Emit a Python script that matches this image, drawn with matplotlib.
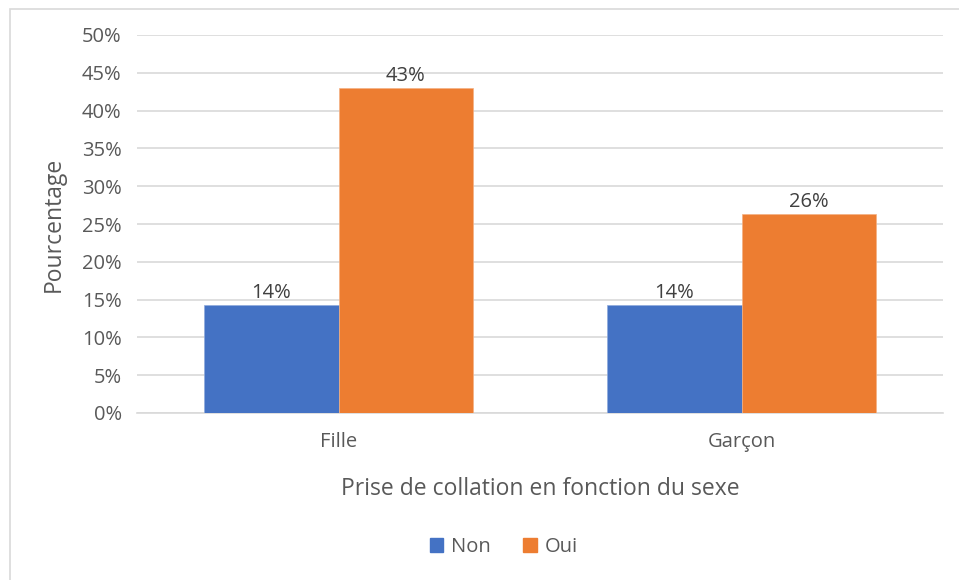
import matplotlib
matplotlib.use("Agg")
import matplotlib.pyplot as plt
import numpy as np
from matplotlib.patches import Rectangle, Patch

categories = ["Fille", "Garçon"]
series_names = ["Non", "Oui"]
non_values = [14.3, 14.3]
oui_values = [43.0, 26.3]
labels_non = ["14%", "14%"]
labels_oui = ["43%", "26%"]
yticks = [0, 5, 10, 15, 20, 25, 30, 35, 40, 45, 50]

W, H = 959, 580
plt.rcParams['font.family'] = ['Open Sans', 'DejaVu Sans']
fig = plt.figure(figsize=(W/100, H/100), dpi=100)
fig.patch.set_facecolor("white")

# outer chart frame (left and top visible)
fig.patches.append(Rectangle((9.5/W, -0.1), 1.2, 1 - 8.5/H + 0.1, transform=fig.transFigure,
                             fill=False, edgecolor="#d9d9d9", linewidth=1.2))

ax = fig.add_axes([137/W, 1 - 413/H, (943-137)/W, (413-35)/H])
txt = "#595959"
blue = "#4472C4"
orange = "#ED7D31"

x = np.arange(len(categories))
w = 1/3
b1 = ax.bar(x - w/2, non_values, width=w, color=blue, edgecolor="#8faadc", linewidth=0.5, zorder=3)
b2 = ax.bar(x + w/2, oui_values, width=w, color=orange, edgecolor="#f4b183", linewidth=0.5, zorder=3)
for rect, lab in zip(b1, labels_non):
    ax.text(rect.get_x() + rect.get_width()/2, rect.get_height() + 0.25, lab,
            ha="center", va="bottom", fontsize=14.5, color="#404040")
for rect, lab in zip(b2, labels_oui):
    ax.text(rect.get_x() + rect.get_width()/2, rect.get_height() + 0.25, lab,
            ha="center", va="bottom", fontsize=14.5, color="#404040")

ax.set_xlim(-0.5, 1.5)
ax.set_ylim(0, 50)
ax.set_yticks(yticks)
ax.set_yticklabels([f"{v}%" for v in yticks])
ax.set_xticks(x)
ax.set_xticklabels(categories)
ax.tick_params(axis="both", length=0, labelsize=14.5, labelcolor=txt)
ax.tick_params(axis="y", pad=11)
ax.tick_params(axis="x", pad=14)
ax.yaxis.grid(True, color="#d9d9d9", linewidth=1.2, zorder=0)
ax.set_axisbelow(True)
for s in ["left", "right", "top"]:
    ax.spines[s].set_visible(False)
ax.spines["bottom"].set_color("#d9d9d9")
ax.spines["bottom"].set_linewidth(1.2)

ax.set_ylabel("Pourcentage", fontsize=16.5, color=txt, labelpad=12)
ax.set_xlabel("Prise de collation en fonction du sexe", fontsize=16.5, color=txt, labelpad=18)

handles = [Patch(facecolor=blue, edgecolor=blue), Patch(facecolor=orange, edgecolor=orange)]
fig.legend(handles, series_names, loc="center", bbox_to_anchor=(504/W, 1 - 547/H), ncol=2,
           frameon=False, fontsize=14.5, labelcolor=txt, handlelength=0.65, handleheight=0.65,
           handletextpad=0.4, columnspacing=1.6)

fig.savefig("out.png", dpi=100, facecolor="white")
